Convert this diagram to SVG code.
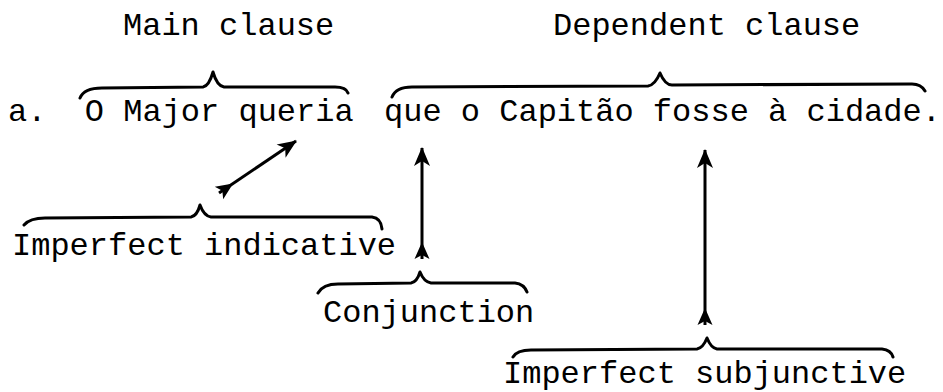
<svg xmlns="http://www.w3.org/2000/svg" width="943" height="392" viewBox="0 0 943 392">
<style>
text{font-family:"Liberation Mono","Courier New",monospace;font-size:32px;fill:#000}
.br{fill:none;stroke:#000;stroke-width:3;stroke-linecap:round;stroke-linejoin:round}
.ar{fill:none;stroke:#000;stroke-width:3}
</style>
<defs>
<marker id="head" markerUnits="userSpaceOnUse" refX="20" refY="10" markerWidth="22" markerHeight="20" orient="auto">
<path d="M21,10 L2,2 L7,10 L2,18 Z" fill="#000"/>
</marker>
<marker id="tail" markerUnits="userSpaceOnUse" refX="1" refY="10" markerWidth="22" markerHeight="20" orient="auto">
<path d="M18,10 L1,2.5 L5,10 L1,17.5 Z" fill="#000"/>
</marker>
</defs>
<g id="label-main"><text x="123" y="35">Main clause</text></g>
<g id="label-dependent"><text x="553" y="35">Dependent clause</text></g>
<g id="sentence"><text y="121" xml:space="preserve"><tspan x="8">a.  O Major queria</tspan><tspan x="384">que o Capitão fosse à cidade.</tspan></text></g>
<g id="label-indicative"><text x="12" y="255">Imperfect indicative</text></g>
<g id="label-conjunction"><text x="323" y="322">Conjunction</text></g>
<g id="label-subjunctive"><text x="503" y="383">Imperfect subjunctive</text></g>
<g id="braces">
<path class="br" d="M80,98 Q84,88 102,88 L203,87 Q209,86 213,72 Q217,86 224,87 L335,87 Q346,87 348,93"/>
<path class="br" d="M392,97 Q396,87 412,87 L648,86 Q655,85 660,73 Q665,85 672,85 L912,84 Q921,84 925,91"/>
<path class="br" d="M24,225 Q30,218 45,218 L191,217 Q197,216 200,205 Q204,216 211,217 L372,217 Q381,218 382,229"/>
<path class="br" d="M318,293 Q323,284 338,284 L411,283 Q417,282 420,272 Q424,282 431,283 L515,283 Q524,284 527,292"/>
<path class="br" d="M513,357 Q517,350 531,350 L697,349 Q703,348 707,338 Q711,348 717,349 L882,349 Q891,350 893,357"/>
</g>
<g id="connectors">
<line class="ar" x1="219" y1="193" x2="296" y2="141" marker-start="url(#tail)" marker-end="url(#head)"/>
<line class="ar" x1="422" y1="259" x2="422" y2="148" marker-start="url(#tail)" marker-end="url(#head)"/>
<line class="ar" x1="705" y1="325" x2="705" y2="150" marker-start="url(#tail)" marker-end="url(#head)"/>
</g>
</svg>
